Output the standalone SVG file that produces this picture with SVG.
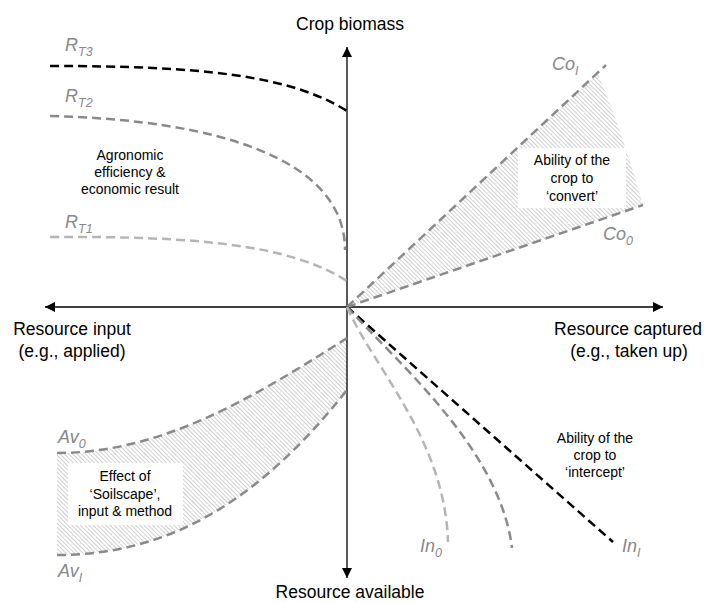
<svg xmlns="http://www.w3.org/2000/svg" width="713" height="603" viewBox="0 0 713 603">
<style>
text{font-family:"Liberation Sans",Arial,sans-serif;}
.ax{font-size:17.5px;fill:#000;text-anchor:middle;}
.note{font-size:14px;fill:#000;text-anchor:middle;}
.lab{font-size:18px;font-style:italic;fill:#888;}
.sub{font-size:12.5px;}
.axis{stroke:#000;stroke-width:1.3;fill:none;}
.d{fill:none;stroke-width:2.5;stroke-dasharray:9 5;}
.blk{stroke:#000;}
.mid{stroke:#8a8a8a;}
.lt{stroke:#b5b5b5;}
</style>
<defs>
<pattern id="hatch" width="3" height="3" patternUnits="userSpaceOnUse" patternTransform="rotate(-45)">
<rect width="3" height="3" fill="#fff"/>
<line x1="0" y1="0" x2="0" y2="3" stroke="#bcbcbc" stroke-width="1.4"/>
</pattern>
<marker id="arr" viewBox="0 0 10 10" refX="10" refY="5" markerWidth="10" markerHeight="10" markerUnits="userSpaceOnUse" orient="auto">
<path d="M0,0 L10,5 L0,10 Z" fill="#000"/>
</marker>
</defs>

<g id="areas">
<path d="M347,307 L598,73 Q625,140 643,205 Z" fill="url(#hatch)"/>
<path d="M57,453 C160,453 250,400 347,338 L347,390 C260,500 170,555 57,555 Z" fill="url(#hatch)"/>
</g>

<g id="connectors">
<line class="axis" x1="347" y1="307" x2="347" y2="47" marker-end="url(#arr)"/>
<line class="axis" x1="347" y1="307" x2="347" y2="578" marker-end="url(#arr)"/>
<line class="axis" x1="347" y1="307" x2="45" y2="307" marker-end="url(#arr)"/>
<line class="axis" x1="347" y1="307" x2="663" y2="307" marker-end="url(#arr)"/>

<path class="d blk" d="M50,66 C200,66 290,75 347,111"/>
<path class="d mid" d="M50,116 C220,120 345,160 345,250"/>
<path class="d lt" d="M50,237 C200,236 290,245 347,281"/>

<line class="d mid" x1="347" y1="307" x2="606" y2="65"/>
<line class="d mid" x1="347" y1="307" x2="643" y2="205"/>

<path class="d mid" d="M57,453 C160,453 250,400 347,338"/>
<path class="d mid" d="M57,555 C170,555 260,500 347,390"/>

<line class="d blk" x1="347" y1="307" x2="613" y2="542"/>
<path class="d mid" d="M347,307 C400,365 500,450 512,548"/>
<path class="d lt" d="M347,307 C375,370 445,440 448,542"/>
</g>

<g id="axis-labels">
<text class="ax" x="350" y="30">Crop biomass</text>
<text class="ax" x="350" y="598">Resource available</text>
<text class="ax" x="72" y="335">Resource input</text>
<text class="ax" x="72" y="357">(e.g., applied)</text>
<text class="ax" x="628" y="335">Resource captured</text>
<text class="ax" x="629" y="357">(e.g., taken up)</text>
</g>

<g id="curve-labels">
<text class="lab" x="65" y="51">R<tspan class="sub" dy="5">T3</tspan></text>
<text class="lab" x="65" y="102">R<tspan class="sub" dy="5">T2</tspan></text>
<text class="lab" x="65" y="228">R<tspan class="sub" dy="5">T1</tspan></text>
<text class="lab" x="552" y="70">Co<tspan class="sub" dy="5">I</tspan></text>
<text class="lab" x="603" y="240">Co<tspan class="sub" dy="5">0</tspan></text>
<text class="lab" x="58" y="443">Av<tspan class="sub" dy="5">0</tspan></text>
<text class="lab" x="58" y="577">Av<tspan class="sub" dy="5">I</tspan></text>
<text class="lab" x="420" y="552">In<tspan class="sub" dy="5">0</tspan></text>
<text class="lab" x="622" y="552">In<tspan class="sub" dy="5">I</tspan></text>
</g>

<g id="agronomic">
<text class="note" x="130" y="160">Agronomic</text>
<text class="note" x="130" y="177">efficiency &amp;</text>
<text class="note" x="130" y="194">economic result</text>
</g>

<g id="convert">
<rect x="518" y="148" width="108" height="60" fill="#fff"/>
<text class="note" x="572" y="165">Ability of the</text>
<text class="note" x="572" y="183">crop to</text>
<text class="note" x="572" y="201">‘convert’</text>
</g>

<g id="soilscape">
<rect x="68" y="463" width="115" height="62" fill="#fff"/>
<text class="note" x="125" y="481">Effect of</text>
<text class="note" x="125" y="499">‘Soilscape’,</text>
<text class="note" x="125" y="516">input &amp; method</text>
</g>

<g id="intercept">
<text class="note" x="595" y="443">Ability of the</text>
<text class="note" x="595" y="460">crop to</text>
<text class="note" x="595" y="477">‘intercept’</text>
</g>
</svg>
